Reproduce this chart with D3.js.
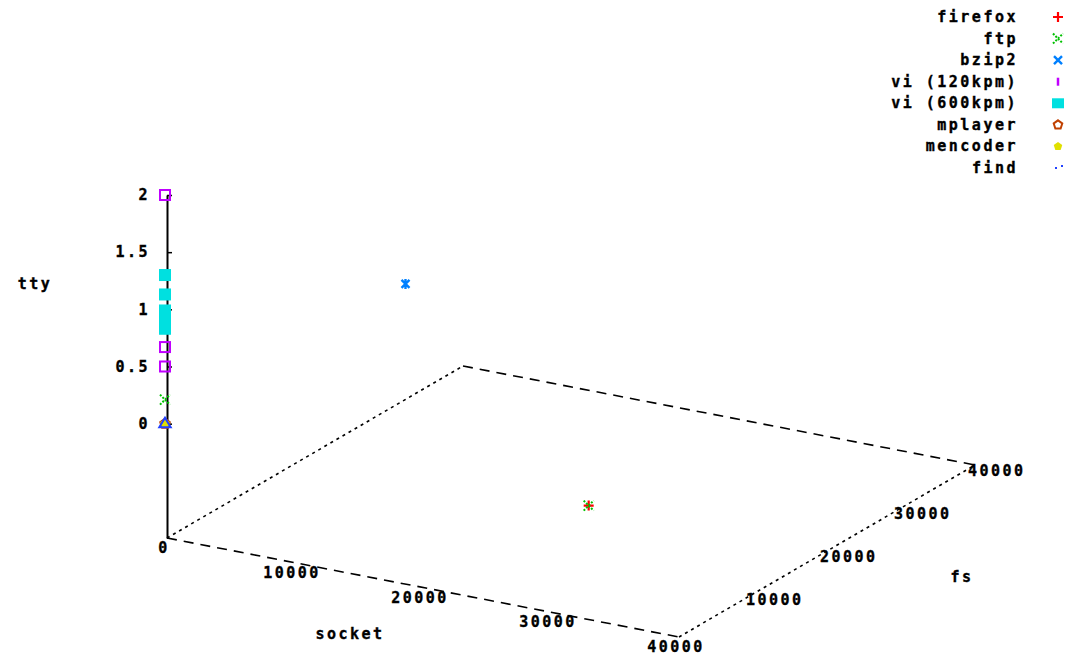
<!DOCTYPE html>
<html>
<head>
<meta charset="utf-8">
<script src="https://cdn.jsdelivr.net/npm/d3@7"></script>
<style>
  html, body { margin: 0; padding: 0; background: #fff; }
  svg text { font-family: "DejaVu Sans Mono", "Liberation Mono", monospace; font-weight: bold; font-size: 15px; letter-spacing: 2.5px; fill: #000; stroke: #000; stroke-width: 0.35px; }
</style>
</head>
<body>
<svg id="chart" width="1068" height="659"></svg>
<script>
// Each point is [socket, fs, tty]
const firefox  = [[33100, 0, 0]];
const ftp      = [[33100, 0, 0], [0, 0, 0.21]];
const bzip2    = [[0, 32500, 0]];
const vi120    = [[0, 0, 2], [0, 0, 0.67], [0, 0, 0.5]];
const vi600    = [[0, 0, 1.3], [0, 0, 1.13], [0, 0, 0.99], [0, 0, 0.91], [0, 0, 0.83]];
const mplayer  = [[0, 0, 0]];
const mencoder = [[0, 0, 0]];
const find     = [[0, 0, 0]];

const seriesNames = ["firefox", "ftp", "bzip2", "vi (120kpm)", "vi (600kpm)", "mplayer", "mencoder", "find"];
const seriesData  = [firefox, ftp, bzip2, vi120, vi600, mplayer, mencoder, find];
const seriesColors = ["#ff0000", "#00c000", "#0080ff", "#c000ff", "#00e0e0", "#c04000", "#e0e000", "#2040ff"];

const socketTicks = [0, 10000, 20000, 30000, 40000];
const fsTicks     = [10000, 20000, 30000, 40000];
const ttyTicks    = [0, 0.5, 1, 1.5, 2];

const svg = d3.select("#chart");

// Base-plane projection: socket runs toward the front-right, fs toward the back-right,
// tty is vertical; the base sits half the tty range below tty = 0.
const origin = [167, 538];
const sx = d3.scaleLinear().domain([0, 40000]).range([0, 1]);
const sy = d3.scaleLinear().domain([0, 40000]).range([0, 1]);
const sz = d3.scaleLinear().domain([-1, 2]).range([538, 195]);
const exVec = [512, 99];
const eyVec = [296, -172];

function project(s, f, t) {
  const a = sx(s), b = sy(f);
  return [
    origin[0] + a * exVec[0] + b * eyVec[0],
    sz(t) + a * exVec[1] + b * eyVec[1]
  ];
}

const zBase = -1;
const c00 = project(0, 0, zBase), c10 = project(40000, 0, zBase),
      c11 = project(40000, 40000, zBase), c01 = project(0, 40000, zBase);

const frame = svg.append("g").attr("stroke", "#000").attr("fill", "none").attr("stroke-width", 1.6);
// edges along socket: long dashes
frame.append("line").attr("x1", c00[0]).attr("y1", c00[1]).attr("x2", c10[0]).attr("y2", c10[1])
  .attr("stroke-dasharray", "10 7");
frame.append("line").attr("x1", c01[0]).attr("y1", c01[1]).attr("x2", c11[0]).attr("y2", c11[1])
  .attr("stroke-dasharray", "10 7");
// edges along fs: dotted
frame.append("line").attr("x1", c00[0]).attr("y1", c00[1]).attr("x2", c01[0]).attr("y2", c01[1])
  .attr("stroke-dasharray", "3 4");
frame.append("line").attr("x1", c10[0]).attr("y1", c10[1]).attr("x2", c11[0]).attr("y2", c11[1])
  .attr("stroke-dasharray", "3 4");

// socket tick labels along the front edge
svg.append("g").selectAll("text").data(socketTicks).join("text")
  .attr("x", d => project(d, 0, zBase)[0] - 3)
  .attr("y", d => project(d, 0, zBase)[1] + 15)
  .attr("text-anchor", "middle")
  .text(d => d);

// fs tick labels along the right edge
svg.append("g").selectAll("text").data(fsTicks).join("text")
  .attr("x", d => project(40000, d, zBase)[0] - 7)
  .attr("y", d => project(40000, d, zBase)[1] + 11)
  .attr("text-anchor", "start")
  .text(d => d);

// vertical tty axis at socket = 0, fs = 0
const zAxis = d3.axisLeft(sz).tickValues(ttyTicks).tickSizeInner(-5).tickSizeOuter(0)
  .tickPadding(17).tickFormat(d => String(d));
const zg = svg.append("g").attr("transform", `translate(${origin[0]},0)`).call(zAxis);
zg.select(".domain").attr("stroke", "#000").attr("stroke-width", 2);
zg.selectAll(".tick line").attr("stroke", "#000").attr("stroke-width", 1.5);
zg.selectAll(".tick text").attr("font-family", null).attr("font-size", null).attr("fill", "#000");

// axis titles
svg.append("text").attr("x", 35).attr("y", 289).attr("text-anchor", "middle").text("tty");
svg.append("text").attr("x", 350).attr("y", 639).attr("text-anchor", "middle").text("socket");
svg.append("text").attr("x", 962).attr("y", 582).attr("text-anchor", "middle").text("fs");

// point markers
function pentagon(r) {
  const pts = d3.range(5).map(i => {
    const a = -Math.PI / 2 + i * 2 * Math.PI / 5;
    return [r * Math.cos(a), r * Math.sin(a)];
  });
  return "M" + pts.map(p => p.join(",")).join("L") + "Z";
}
function triangle(r) {
  return `M0,${-r}L${r * 0.95},${r * 0.6}L${-r * 0.95},${r * 0.6}Z`;
}
const markers = [
  g => g.append("path").attr("d", "M-5,0H5M0,-5V5").attr("stroke", seriesColors[0]).attr("stroke-width", 2.2).attr("fill", "none"),
  g => g.append("path").attr("d", "M-5,-5L5,5M-5,5L5,-5").attr("stroke", seriesColors[1]).attr("stroke-width", 2).attr("stroke-dasharray", "2 1.5").attr("fill", "none"),
  g => g.append("path").attr("d", "M-4,-4L4,4M-4,4L4,-4M0,-5V5").attr("stroke", seriesColors[2]).attr("stroke-width", 2.4).attr("fill", "none"),
  g => g.append("rect").attr("x", -5).attr("y", -5).attr("width", 10).attr("height", 10).attr("stroke", seriesColors[3]).attr("stroke-width", 2).attr("fill", "none"),
  g => g.append("rect").attr("x", -6).attr("y", -6).attr("width", 12).attr("height", 12).attr("fill", seriesColors[4]),
  g => g.append("path").attr("d", pentagon(5)).attr("stroke", seriesColors[5]).attr("stroke-width", 2).attr("fill", "none"),
  g => g.append("path").attr("d", pentagon(5)).attr("fill", seriesColors[6]),
  g => g.append("path").attr("d", triangle(6)).attr("stroke", seriesColors[7]).attr("stroke-width", 2).attr("fill", "none")
];

seriesData.forEach((pts, i) => {
  svg.append("g").selectAll("g").data(pts).join("g")
    .attr("transform", d => { const p = project(d[0], d[1], d[2]); return `translate(${p[0] - 2},${p[1]})`; })
    .each(function () { markers[i](d3.select(this)); });
});

// key in the top-right corner
const legendMarkers = [
  g => g.append("path").attr("d", "M-5,0H5M0,-5V5").attr("stroke", seriesColors[0]).attr("stroke-width", 2.2),
  g => g.append("path").attr("d", "M-5,-5L5,5M-5,5L5,-5").attr("stroke", seriesColors[1]).attr("stroke-width", 2).attr("stroke-dasharray", "2 1.5"),
  g => g.append("path").attr("d", "M-4,-4L4,4M-4,4L4,-4").attr("stroke", seriesColors[2]).attr("stroke-width", 2.4),
  g => g.append("path").attr("d", "M0,-4V4").attr("stroke", seriesColors[3]).attr("stroke-width", 2.5),
  g => g.append("rect").attr("x", -6).attr("y", -5).attr("width", 12).attr("height", 10).attr("fill", seriesColors[4]),
  g => g.append("path").attr("d", pentagon(4.5)).attr("stroke", seriesColors[5]).attr("stroke-width", 2).attr("fill", "none"),
  g => g.append("path").attr("d", pentagon(4.5)).attr("fill", seriesColors[6]),
  g => g.append("path").attr("d", "M-3,-1h2v2h-2zM3,-3h2v2h-2z").attr("fill", seriesColors[7])
];
const legendY = d3.scalePoint().domain(seriesNames).range([17, 168]);
const legend = svg.append("g");
seriesNames.forEach((name, i) => {
  legend.append("text").attr("x", 1018).attr("y", legendY(name) + 5).attr("text-anchor", "end").text(name);
  const mg = legend.append("g").attr("transform", `translate(1058,${legendY(name)})`).attr("fill", "none");
  legendMarkers[i](mg);
});
</script>
</body>
</html>
